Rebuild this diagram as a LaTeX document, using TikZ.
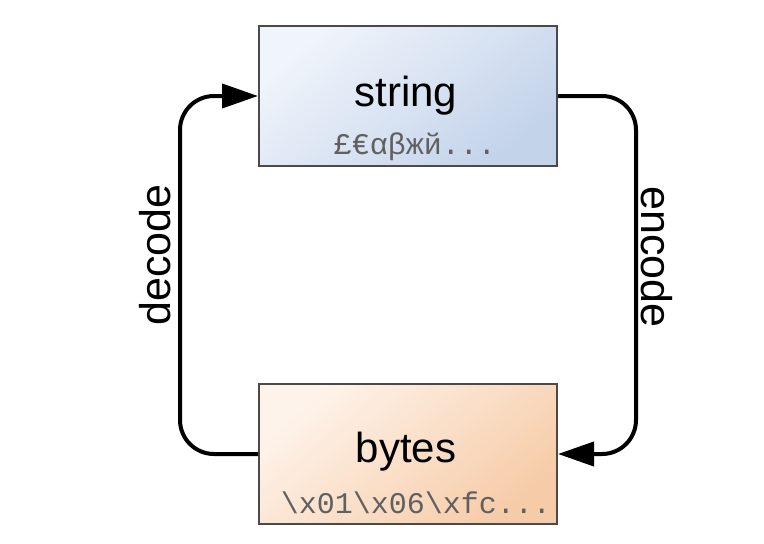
\documentclass[tikz,border=0pt]{standalone}
\usepackage{fontspec}
\setmainfont{Liberation Sans}
\newfontfamily\monofont{Liberation Mono}
\usetikzlibrary{arrows.meta}
\definecolor{boxborder}{HTML}{4A4A4A}
\definecolor{strA}{HTML}{F0F4FB}
\definecolor{strB}{HTML}{C3D3EA}
\definecolor{bytA}{HTML}{FEF3EA}
\definecolor{bytB}{HTML}{F6CCA8}
\definecolor{monogray}{HTML}{606060}
\tikzset{
  box/.style={draw=boxborder, line width=2pt, minimum width=298pt, minimum height=140pt, inner sep=0pt},
  strbox/.style={box, top color=strA, bottom color=strB, shading angle=40},
  bytbox/.style={box, top color=bytA, bottom color=bytB, shading angle=40},
  title/.style={font=\fontsize{42}{42}\selectfont, text=black, inner sep=0pt},
  monotext/.style={font=\monofont\fontsize{30}{30}\selectfont, text=monogray, inner sep=0pt},
  conn/.style={line width=4pt, rounded corners=34pt, -{Triangle[length=36pt,width=24pt]}},
  side/.style={font=\fontsize{43}{43}\selectfont, inner sep=0pt}
}
\begin{document}
\begin{tikzpicture}[x=1pt,y=-1pt]
\useasboundingbox[fill=white] (0,0) rectangle (764,544);
\node[strbox] (s) at (408,96) {};
\node[bytbox] (b) at (408,454) {};
\node[title] (st) at (406,96) {string};
\node[monotext] (sm) at (415,147) {£€αβжй...};
\node[title] (bt) at (406,452) {bytes};
\node[monotext] (bm) at (416,503) {\textbackslash x01\textbackslash x06\textbackslash xfc...};
\coordinate (lt) at (180,96);
\coordinate (lb) at (180,454);
\coordinate (rt) at (636,96);
\coordinate (rb) at (636,454);
\draw[conn] (b.west) -- (lb) -- (lt) -- (s.west);
\draw[conn] (s.east) -- (rt) -- (rb) -- (b.east);
\node[side, rotate=90] (dec) at (155,255) {decode};
\node[side, rotate=-90] (enc) at (657,257) {encode};
\end{tikzpicture}
\end{document}
